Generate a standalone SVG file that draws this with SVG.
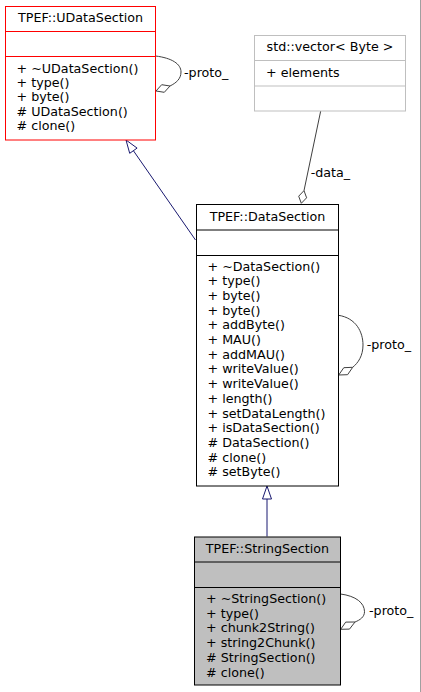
<svg xmlns="http://www.w3.org/2000/svg" width="421" height="692" viewBox="0 0 421 692">
<style>
text{font-family:"DejaVu Sans","Liberation Sans",sans-serif;font-size:12.7px;fill:#000}
.t{text-anchor:middle}
.box{fill:#fff;stroke-width:1}
.inh{fill:none;stroke:#191970;stroke-width:1}
.inhh{fill:#fff;stroke:#191970;stroke-width:1}
.agg{fill:none;stroke:#404040;stroke-width:1}
.aggh{fill:#fff;stroke:#404040;stroke-width:1}
</style>
<rect x="0" y="0" width="421" height="692" fill="#fff"/>
<line x1="420.5" y1="0" x2="420.5" y2="692" stroke="#a0a0a0" stroke-width="1"/>
<g id="connectors">
  <path class="inh" d="M195.5,240 L133.4,150.7"/>
  <polygon class="inhh" points="126,140 137.1,148.1 129.7,153.3"/>
  <path class="inh" d="M267,536.5 L267,499"/>
  <polygon class="inhh" points="267,486 271.5,499 262.5,499"/>
  <path class="agg" d="M320.7,111 L304,190.6"/>
  <polygon class="aggh" points="301.3,203.3 298.7,196.2 304,190.6 306.6,197.8"/>
  <text x="310.7" y="176.7">-data_</text>
  <path class="agg" d="M155.5,56 C172,58 181,64 181,72 C181,79 176,83 170,86"/>
  <polygon class="aggh" points="156,91 161.7,84.7 170,86 164.3,92.3"/>
  <text x="184" y="77">-proto_</text>
  <path class="agg" d="M338.5,315.3 C356,318 363,332 363,345 C363,356 358,363 352.7,367.3"/>
  <polygon class="aggh" points="338.7,375 343.8,367.7 352.7,367.3 347.6,374.7"/>
  <text x="366.7" y="349.3">-proto_</text>
  <path class="agg" d="M340.5,594 C356,596 364.5,603 364.5,611.7 C364.5,617 360,620 355,622"/>
  <polygon class="aggh" points="340.7,629.3 345.7,622.1 355,622 349.5,629.1"/>
  <text x="369" y="615">-proto_</text>
</g>
<g id="UDataSection">
  <rect class="box" x="5.5" y="6.5" width="150" height="133.5" stroke="#ff0000"/>
  <line x1="5.5" y1="31.5" x2="155.5" y2="31.5" stroke="#ff0000"/>
  <line x1="5.5" y1="56.5" x2="155.5" y2="56.5" stroke="#ff0000"/>
  <text class="t" x="80.5" y="22">TPEF::UDataSection</text>
  <text x="16.5" y="72.7">+ ~UDataSection()</text>
  <text x="16.5" y="87">+ type()</text>
  <text x="16.5" y="101.4">+ byte()</text>
  <text x="16.5" y="115.8">#  UDataSection()</text>
  <text x="16.5" y="130.2"># clone()</text>
</g>
<g id="vector">
  <rect class="box" x="254.5" y="35.5" width="151" height="75.5" stroke="#bfbfbf"/>
  <line x1="254.5" y1="60.5" x2="405.5" y2="60.5" stroke="#bfbfbf"/>
  <line x1="254.5" y1="86" x2="405.5" y2="86" stroke="#bfbfbf"/>
  <text class="t" x="330" y="51">std::vector&lt; Byte &gt;</text>
  <text x="266" y="76.7">+ elements</text>
</g>
<g id="DataSection">
  <rect class="box" x="196.5" y="204.5" width="142" height="281.5" stroke="#000"/>
  <line x1="196.5" y1="230" x2="338.5" y2="230" stroke="#000"/>
  <line x1="196.5" y1="255.5" x2="338.5" y2="255.5" stroke="#000"/>
  <text class="t" x="267.5" y="221">TPEF::DataSection</text>
  <text x="207.5" y="270.5">+ ~DataSection()</text>
  <text x="207.5" y="285.2">+ type()</text>
  <text x="207.5" y="299.9">+ byte()</text>
  <text x="207.5" y="314.6">+ byte()</text>
  <text x="207.5" y="329.3">+ addByte()</text>
  <text x="207.5" y="344">+ MAU()</text>
  <text x="207.5" y="358.7">+ addMAU()</text>
  <text x="207.5" y="373.4">+ writeValue()</text>
  <text x="207.5" y="388.1">+ writeValue()</text>
  <text x="207.5" y="402.8">+ length()</text>
  <text x="207.5" y="417.5">+ setDataLength()</text>
  <text x="207.5" y="432.2">+ isDataSection()</text>
  <text x="207.5" y="446.9"># DataSection()</text>
  <text x="207.5" y="461.6"># clone()</text>
  <text x="207.5" y="476.3"># setByte()</text>
</g>
<g id="StringSection">
  <rect x="194.5" y="537" width="146" height="148" fill="#bfbfbf" stroke="#000"/>
  <line x1="194.5" y1="562" x2="340.5" y2="562" stroke="#000"/>
  <line x1="194.5" y1="587.5" x2="340.5" y2="587.5" stroke="#000"/>
  <text class="t" x="267.5" y="553">TPEF::StringSection</text>
  <text x="206" y="603">+ ~StringSection()</text>
  <text x="206" y="617.7">+ type()</text>
  <text x="206" y="632.4">+ chunk2String()</text>
  <text x="206" y="647.1">+ string2Chunk()</text>
  <text x="206" y="661.8"># StringSection()</text>
  <text x="206" y="676.5"># clone()</text>
</g>
</svg>
